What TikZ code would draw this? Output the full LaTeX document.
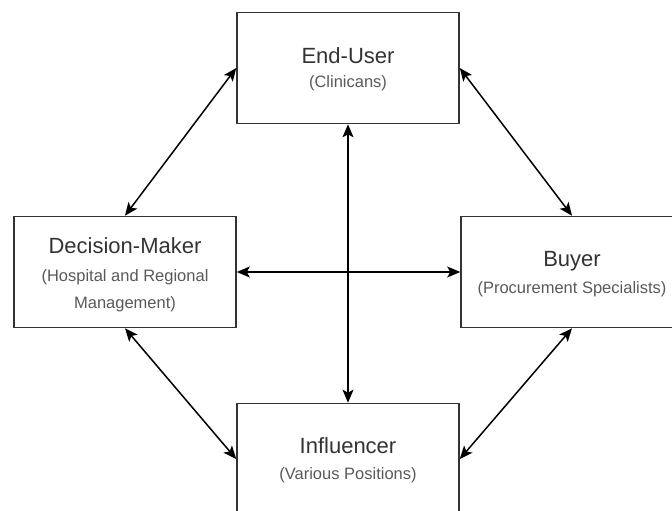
\documentclass[tikz,border=0pt]{standalone}
\usepackage{fontspec}
\setmainfont{Liberation Sans}
\usetikzlibrary{arrows.meta,positioning}

\begin{document}
\begin{tikzpicture}[
  x=1pt, y=-1pt,
  box/.style={draw=black!80, line width=1.6pt, minimum width=222pt, minimum height=111pt, inner sep=0pt},
  ttl/.style={anchor=base, inner sep=0pt, text=black!80, font=\fontsize{22}{26}\selectfont},
  sub/.style={anchor=base, inner sep=0pt, text=black!65, font=\fontsize{16.5}{20}\selectfont},
  link/.style={<->, line width=1.5pt},
  >={Stealth[length=13pt, width=11pt, inset=3pt]}]
\useasboundingbox (0,0) rectangle (672,511);
% the four roles
\node[box] (user) at (348,68) {};
\node[box] (dm) at (125,272) {};
\node[box] (buyer) at (572,272) {};
\node[box] (infl) at (348,459) {};
\node[ttl] (userT) at (348,63.5) {End-User};
\node[sub] (userS) at (348,87.5) {(Clinicans)};
\node[ttl] (dmT) at (125,253) {Decision-Maker};
\node[sub] (dmS1) at (125,281.5) {(Hospital and Regional};
\node[sub] (dmS2) at (125,308.5) {Management)};
\node[ttl] (buyerT) at (572,266.5) {Buyer};
\node[sub] (buyerS) at (572,293) {(Procurement Specialists)};
\node[ttl] (inflT) at (348,453) {Influencer};
\node[sub] (inflS) at (348,479) {(Various Positions)};
% links
\draw[link] (user.west) -- (dm.north);
\draw[link] (user.east) -- (buyer.north);
\draw[link] (dm.south) -- (infl.west);
\draw[link] (buyer.south) -- (infl.east);
\draw[link] (dm.east) -- (buyer.west);
\draw[link] (user.south) -- (infl.north);
\end{tikzpicture}
\end{document}
